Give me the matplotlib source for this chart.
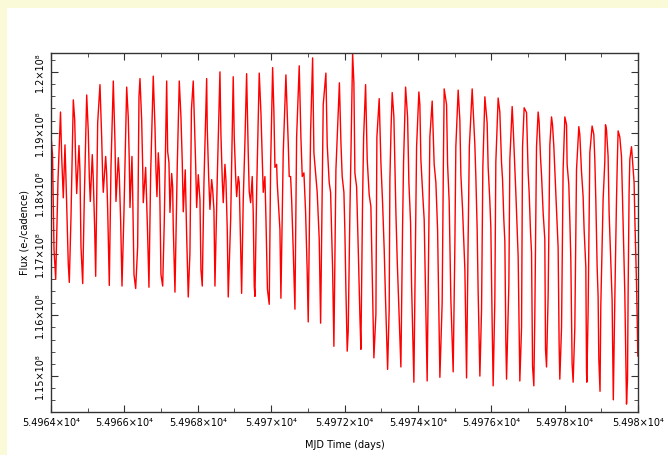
import numpy as np
import matplotlib
matplotlib.use("Agg")
import matplotlib.pyplot as plt
from matplotlib.ticker import MultipleLocator

# light curve: days after MJD 54964 and flux in 1e6 e-/cadence
t0 = 54964.0
dt = [
    0.000, 0.041, 0.082, 0.128,
    0.191, 0.259, 0.292, 0.335, 0.381, 0.409, 0.471, 0.499,
    0.545, 0.608, 0.646, 0.673, 0.700, 0.763, 0.790, 0.817, 0.864,
    0.907, 0.973, 1.016, 1.044, 1.071, 1.125, 1.153, 1.191, 1.218,
    1.272, 1.335, 1.381, 1.409, 1.425, 1.490, 1.518, 1.545, 1.589,
    1.635, 1.698, 1.744, 1.771, 1.834, 1.861, 1.899, 1.935,
    1.989, 2.063, 2.106, 2.134, 2.153, 2.207, 2.226, 2.262, 2.308,
    2.362, 2.398, 2.425, 2.471, 2.499, 2.515, 2.580, 2.608, 2.635, 2.670,
    2.717, 2.787, 2.834, 2.861, 2.888, 2.924, 2.951, 2.970, 2.997, 3.044,
    3.087, 3.153, 3.180, 3.215, 3.243, 3.289, 3.316, 3.332, 3.379,
    3.441, 3.496, 3.542, 3.578, 3.605, 3.659, 3.698, 3.741,
    3.787, 3.828, 3.877, 3.905, 3.943, 3.970, 4.014, 4.060, 4.087, 4.123,
    4.169, 4.243, 4.259, 4.297, 4.332, 4.379, 4.406, 4.441, 4.469,
    4.531, 4.605, 4.632, 4.668, 4.695, 4.741, 4.768, 4.804, 4.831,
    4.897, 4.967, 4.995, 5.033, 5.060, 5.104, 5.131, 5.169, 5.196,
    5.240, 5.286, 5.332, 5.376, 5.403, 5.441, 5.485, 5.512, 5.540, 5.559,
    5.605, 5.676, 5.722, 5.758, 5.785, 5.831, 5.858, 5.899, 5.948,
    5.987, 6.041, 6.076, 6.104, 6.150, 6.166, 6.240, 6.267,
    6.330, 6.403, 6.466, 6.493, 6.531, 6.559, 6.602, 6.649,
    6.695, 6.766, 6.812, 6.848, 6.894, 6.940, 6.984, 7.011,
    7.076, 7.131, 7.166, 7.221, 7.256, 7.311, 7.349,
    7.420, 7.493, 7.529, 7.583, 7.621, 7.676, 7.711,
    7.766, 7.861, 7.902, 7.937, 7.984, 8.011, 8.038, 8.074,
    8.101, 8.147, 8.174, 8.221, 8.256, 8.283, 8.330, 8.373, 8.420, 8.447,
    8.493, 8.521, 8.575, 8.619, 8.673, 8.719, 8.755, 8.801,
    8.856, 8.883, 8.946, 8.992, 9.038, 9.082, 9.120, 9.175,
    9.218, 9.237, 9.270, 9.300, 9.346, 9.401, 9.436, 9.491, 9.537,
    9.583, 9.610, 9.665, 9.719, 9.755, 9.801, 9.828, 9.891,
    9.946, 9.965, 10.027, 10.054, 10.082, 10.128, 10.172, 10.210, 10.253,
    10.308, 10.327, 10.390, 10.444, 10.491, 10.537, 10.572, 10.600,
    10.662, 10.695, 10.717, 10.782, 10.810, 10.853, 10.899, 10.962,
    11.008, 11.035, 11.098, 11.144, 11.172, 11.218, 11.281, 11.327,
    11.370, 11.403, 11.480, 11.526, 11.553, 11.580, 11.616, 11.643, 11.690,
    11.736, 11.771, 11.826, 11.888, 11.916, 11.962, 11.989, 12.025, 12.052,
    12.098, 12.125, 12.188, 12.234, 12.280, 12.308, 12.343, 12.371, 12.398, 12.417,
    12.480, 12.507, 12.570, 12.597, 12.643, 12.670, 12.706, 12.733, 12.766, 12.779,
    12.826, 12.853, 12.897, 12.962, 13.006, 13.033, 13.071, 13.098, 13.126, 13.161,
    13.188, 13.234, 13.278, 13.305, 13.343, 13.370, 13.414, 13.460, 13.479, 13.507,
    13.551, 13.597, 13.643, 13.670, 13.706, 13.760, 13.796, 13.823, 13.850, 13.869,
    13.916, 13.959, 14.006, 14.052, 14.068, 14.114, 14.142, 14.169, 14.204, 14.232,
    14.278, 14.324, 14.387, 14.414, 14.460, 14.504, 14.531, 14.578, 14.597, 14.605,
    14.640, 14.687, 14.749, 14.796, 14.823, 14.850, 14.886, 14.913, 14.932, 14.965,
    14.986, 15.049, 15.095, 15.114, 15.141, 15.185, 15.212, 15.251, 15.294, 15.327,
    15.368, 15.414, 15.436, 15.458, 15.504, 15.550, 15.577, 15.613, 15.640, 15.687,
    15.714, 15.730, 15.757, 15.777, 15.823, 15.894, 15.913, 15.959, 15.975, 15.995,
]
flux_e6 = [
    118.95, 118.64, 117.08, 116.59,
    118.23, 119.34, 118.59, 117.93, 118.80, 118.23, 116.84, 116.54,
    117.62, 119.54, 119.21, 118.52, 118.00, 118.79, 118.36, 117.13, 116.52,
    117.90, 119.62, 119.02, 118.28, 117.87, 118.64, 118.23, 117.41, 116.64,
    119.16, 119.79, 118.93, 118.26, 118.02, 118.61, 118.31, 117.74, 116.49,
    118.44, 119.85, 118.84, 117.87, 118.59, 118.31, 117.54, 116.48,
    117.70, 119.75, 119.25, 118.52, 117.77, 118.61, 118.02, 116.67, 116.44,
    117.13, 119.59, 119.89, 119.21, 118.44, 117.85, 118.43, 117.87, 117.30, 116.46,
    118.34, 119.93, 119.10, 118.39, 117.95, 118.67, 118.39, 117.82, 116.67, 116.48,
    117.52, 119.85, 118.69, 118.51, 117.69, 118.33, 118.11, 117.46, 116.38,
    118.44, 119.85, 119.26, 118.51, 117.70, 118.39, 117.30, 116.30,
    117.03, 119.38, 119.85, 119.25, 118.48, 117.77, 118.31, 117.90, 116.75, 116.48,
    118.18, 119.89, 119.08, 118.28, 117.74, 118.23, 118.07, 117.74, 116.48,
    118.23, 120.00, 118.97, 118.23, 117.85, 118.48, 118.23, 117.41, 116.30,
    117.57, 119.92, 118.92, 118.28, 117.95, 118.28, 118.18, 117.08, 116.36,
    117.90, 118.85, 119.97, 118.67, 118.03, 117.85, 118.28, 117.69, 116.48, 116.31,
    118.02, 119.98, 119.33, 118.56, 118.02, 118.28, 117.61, 116.43, 116.18,
    118.48, 120.07, 119.33, 118.43, 118.48, 118.18, 117.41, 116.28,
    118.67, 119.95, 118.84, 118.28, 118.28, 117.90, 117.08, 116.10,
    118.93, 120.10, 118.92, 118.28, 118.34, 117.69, 116.70, 115.89,
    119.02, 120.23, 118.67, 118.26, 118.02, 117.25, 115.87,
    119.46, 119.98, 118.80, 118.18, 118.02, 116.75, 115.49,
    118.39, 119.82, 118.85, 118.28, 118.02, 117.36, 116.43, 115.41,
    115.74, 117.69, 118.59, 120.30, 119.82, 118.34, 118.11, 117.13, 115.98, 115.44,
    117.90, 118.92, 119.79, 118.56, 117.98, 117.79, 116.70, 115.30,
    116.02, 118.93, 119.56, 118.51, 117.85, 117.08, 116.23, 115.11,
    116.10, 118.23, 119.10, 119.66, 119.26, 117.69, 116.92, 115.98, 115.15,
    117.46, 118.52, 119.75, 119.26, 118.18, 117.52, 116.51, 114.90,
    117.69, 118.77, 119.67, 119.46, 118.56, 118.03, 117.57, 116.31, 114.92,
    117.95, 118.93, 119.52, 118.48, 118.18, 117.41, 116.05, 114.98,
    116.21, 118.48, 119.72, 119.46, 118.48, 117.87, 116.26, 115.07,
    117.13, 118.77, 119.70, 119.21, 118.31, 117.74, 116.75, 114.97,
    117.25, 118.77, 119.72, 119.16, 118.80, 118.28, 117.41, 116.38, 115.00,
    116.10, 118.44, 119.59, 119.16, 118.43, 117.87, 117.44, 115.85, 114.84,
    116.26, 118.52, 119.57, 119.34, 118.51, 118.23, 117.57, 117.21, 115.57, 114.95,
    116.51, 118.56, 119.43, 119.10, 118.44, 118.02, 117.41, 116.97, 115.41, 114.92,
    115.80, 118.77, 119.41, 119.33, 118.34, 118.02, 117.36, 117.03, 115.16, 114.84,
    116.02, 118.77, 119.34, 119.18, 118.59, 118.31, 117.69, 117.25, 115.44, 115.15,
    116.34, 118.80, 119.26, 119.13, 118.77, 118.02, 117.54, 117.11, 115.52, 114.95,
    115.80, 118.39, 119.26, 119.13, 118.48, 118.15, 117.57, 116.92, 115.20, 114.90,
    115.80, 118.39, 119.10, 118.97, 118.36, 117.95, 117.41, 116.79, 115.07, 114.90,
    116.05, 118.67, 119.11, 118.97, 118.56, 117.90, 116.80, 116.30, 115.28, 114.75,
    116.15, 117.90, 118.52, 119.13, 119.05, 118.61, 117.70, 117.03, 116.26, 114.61,
    116.26, 117.90, 118.52, 119.03, 118.93, 118.61, 117.93, 116.95, 116.38, 114.54,
    114.95, 116.31, 118.02, 118.56, 118.77, 118.18, 117.62, 116.54, 116.05, 115.33,
]

xticks = [54964, 54966, 54968, 54970, 54972, 54974, 54976, 54978, 54980]
xtick_labels = ['5.4964×10⁴', '5.4966×10⁴', '5.4968×10⁴', '5.497×10⁴', '5.4972×10⁴',
                '5.4974×10⁴', '5.4976×10⁴', '5.4978×10⁴', '5.498×10⁴']
yticks = [1.15e8, 1.16e8, 1.17e8, 1.18e8, 1.19e8, 1.2e8]
ytick_labels = ['1.15×10⁸', '1.16×10⁸', '1.17×10⁸', '1.18×10⁸', '1.19×10⁸', '1.2×10⁸']

fig = plt.figure(figsize=(6.68, 4.55), dpi=100)
fig.patch.set_facecolor('#fafad8')

# white panel behind the plot, yellow page shows only on the left and top
bg = fig.add_axes([7 / 668, 0, 661 / 668, 447 / 455], zorder=-5)
bg.set_facecolor('white')
bg.set_xticks([])
bg.set_yticks([])
for s in bg.spines.values():
    s.set_visible(False)

ax = fig.add_axes([51 / 668, 1 - 412 / 455, 587 / 668, 359 / 455])
ax.plot(t0 + np.array(dt), np.array(flux_e6) * 1e6, color='red', lw=1.0)

ax.set_xlim(54964, 54980)
ax.set_ylim(1.1441e8, 1.2031e8)
ax.set_xticks(xticks)
ax.set_xticklabels(xtick_labels, fontsize=7)
ax.set_yticks(yticks)
ax.set_yticklabels(ytick_labels, fontsize=7, rotation=90, va='center')
ax.xaxis.set_minor_locator(MultipleLocator(1))
ax.yaxis.set_minor_locator(MultipleLocator(2e5))
ax.tick_params(which='both', direction='in', top=True, right=True, color='#333333')
ax.tick_params(which='major', length=5, pad=4)
ax.tick_params(which='minor', length=3)
for s in ax.spines.values():
    s.set_color('#333333')
    s.set_linewidth(1.0)

ax.set_xlabel('MJD Time (days)', fontsize=7, labelpad=9)
ax.set_ylabel('Flux (e-/cadence)', fontsize=7, labelpad=4)

fig.savefig('out.png', dpi=100)
